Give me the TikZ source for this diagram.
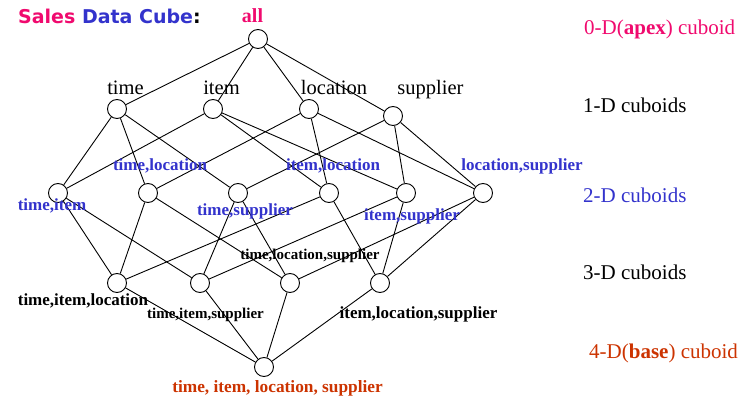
\documentclass[tikz,border=0pt]{standalone}
\usepackage{fontspec}
\setmainfont{Liberation Serif}
\newfontfamily\dejavu{DejaVu Sans}
\definecolor{pinkc}{RGB}{240,10,110}
\definecolor{bluec}{RGB}{51,51,204}
\definecolor{orangec}{RGB}{204,51,0}
\begin{document}
\begin{tikzpicture}[x=1pt,y=-1pt,
  cub/.style={circle,draw=black,line width=0.9pt,fill=white,minimum size=19pt,inner sep=0pt},
  edge/.style={draw=black,line width=0.9pt},
  lbl/.style={inner sep=0pt,anchor=base},
  onedl/.style={lbl,font=\fontsize{20.5}{24}\selectfont},
  twodl/.style={lbl,font=\fontsize{17}{20}\selectfont\bfseries,text=bluec},
  thrdl/.style={lbl,font=\fontsize{17}{20}\selectfont\bfseries},
  thrds/.style={lbl,font=\fontsize{15}{18}\selectfont\bfseries},
  sidel/.style={inner sep=0pt,anchor=base west,font=\fontsize{21}{24}\selectfont}]
\useasboundingbox (0,0) rectangle (755,398);
% nodes
\node[cub] (apex) at (258,39) {};
\node[cub] (t) at (117,109) {};
\node[cub] (i) at (213,109) {};
\node[cub] (l) at (309,109) {};
\node[cub] (s) at (393,116) {};
\node[cub] (ti) at (58,193) {};
\node[cub] (tl) at (148,193) {};
\node[cub] (ts) at (238,193) {};
\node[cub] (il) at (329,193) {};
\node[cub] (is) at (406,193) {};
\node[cub] (ls) at (483,193) {};
\node[cub] (til) at (117,283) {};
\node[cub] (tis) at (200,283) {};
\node[cub] (tls) at (290,283) {};
\node[cub] (ils) at (380,283) {};
\node[cub] (base) at (264,367) {};
% edges
\foreach \a/\b in {apex/t,apex/i,apex/l,apex/s,
  t/ti,t/tl,t/ts,i/ti,i/il,i/is,l/tl,l/il,l/ls,s/ts,s/is,s/ls,
  ti/til,ti/tis,tl/til,tl/tls,ts/tis,ts/tls,il/til,il/ils,is/tis,is/ils,ls/tls,ls/ils,
  til/base,tis/base,tls/base,ils/base}
  \draw[edge] (\a) -- (\b);
% labels
\node[inner sep=0pt,anchor=base west,font=\dejavu\bfseries\fontsize{19}{22}\selectfont] (title) at (18,24)
  {\textcolor{pinkc}{Sales} \textcolor{bluec}{Data Cube}:};
\node[lbl,font=\fontsize{20}{24}\selectfont\bfseries,text=pinkc] (lall) at (252.5,23) {all};
\node[onedl] (lt) at (125.5,95) {time};
\node[onedl] (li) at (221.5,95) {item};
\node[onedl] (ll) at (334,95) {location};
\node[onedl] (ls2) at (430.5,95) {supplier};
\node[twodl] (ltl) at (160,171) {time,location};
\node[twodl] (lil) at (333,171) {item,location};
\node[twodl] (lls) at (522,171) {location,supplier};
\node[twodl] (lti) at (52,211) {time,item};
\node[twodl] (lts) at (245,215) {time,supplier};
\node[twodl] (lis) at (412,221) {item,supplier};
\node[thrds] (ltls) at (310,259) {time,location,supplier};
\node[thrdl] (ltil) at (83,305) {time,item,location};
\node[thrds] (ltis) at (205.5,318) {time,item,supplier};
\node[thrdl] (lils) at (418.5,318) {item,location,supplier};
\node[lbl,font=\fontsize{17.3}{20}\selectfont\bfseries,text=orangec] (lbase) at (277.5,392) {time, item, location, supplier};
\node[sidel,text=pinkc] (s0) at (584,35) {0-D(\textbf{apex}) cuboid};
\node[sidel] (s1) at (583,113) {1-D cuboids};
\node[sidel,text=bluec] (s2) at (583,203) {2-D cuboids};
\node[sidel] (s3) at (583,279) {3-D cuboids};
\node[sidel,text=orangec] (s4) at (589,358) {4-D(\textbf{base}) cuboid};
\end{tikzpicture}
\end{document}
